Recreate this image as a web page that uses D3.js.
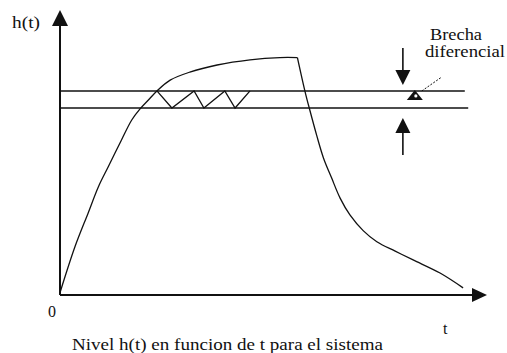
<!DOCTYPE html>
<html>
<head>
<meta charset="utf-8">
<title>Nivel h(t)</title>
<script src="https://d3js.org/d3.v7.min.js"></script>
<style>
body { margin: 0; background: #fff; }
.lbl { font-family: "Liberation Serif", Tinos, "Times New Roman", Times, "Noto Serif", "DejaVu Serif", FreeSerif, serif; }
</style>
</head>
<body>
<div id="chart"></div>
<script>
// level curve (t, h) in 0..100 units
var riseT = [0, 3.5, 6.6, 9.0, 11.3, 14.4, 16.8, 18.7, 20.7, 22.7, 25.8, 30.4, 36.8, 44.5, 51.5, 55.6];
var riseH = [0.8, 16.9, 28.8, 38.0, 45.0, 54.4, 61.4, 65.2, 68.4, 71.6, 75.4, 78.2, 80.7, 82.5, 83.3, 83.3];
var fallT = [55.6, 57.4, 58.5, 60.1, 61.7, 63.6, 65.6, 67.9, 71.0, 74.2, 78.5, 82.7, 89.0, 94.4];
var fallH = [83.3, 71.3, 64.9, 56.1, 48.1, 41.1, 34.0, 28.1, 22.6, 18.7, 15.4, 12.3, 7.7, 2.5];

// on/off band
var bandUpper = 71.6, bandLower = 65.6;
var bandEndT = [94.8, 95.6];

// zigzag between the band limits
var zigT = [22.7, 26.2, 31.4, 33.7, 38.6, 41.0, 44.5];
var zigH = [71.6, 65.6, 71.6, 65.6, 71.6, 65.6, 71.6];

var gapT = 80.3;
var gapArrowDown = [86.7, 73.7];
var gapArrowUp = [49.1, 62.1];

var labels = { y: "h(t)", x: "t", zero: "0",
  caption: "Nivel h(t) en funcion de t para el sistema",
  note: ["Brecha", "diferencial"] };

var width = 507, height = 353;
var svg = d3.select("#chart").append("svg")
  .attr("width", width).attr("height", height);

var x = d3.scaleLinear().domain([0, 100]).range([60, 487]);
var y = d3.scaleLinear().domain([0, 100]).range([295, 10]);

var ink = "#111";

// axes
svg.append("line").attr("x1", x(0)).attr("y1", y(0)).attr("x2", x(0)).attr("y2", y(95))
  .attr("stroke", ink).attr("stroke-width", 2);
svg.append("line").attr("x1", x(0)).attr("y1", y(0)).attr("x2", x(96.5)).attr("y2", y(0))
  .attr("stroke", ink).attr("stroke-width", 2);
// arrow heads
svg.append("path")
  .attr("d", "M" + x(0) + "," + y(100) + " L" + (x(0) + 8) + "," + (y(100) + 16) + " L" + (x(0) - 8) + "," + (y(100) + 16) + "Z")
  .attr("fill", ink);
svg.append("path")
  .attr("d", "M" + x(100) + "," + y(0) + " L" + (x(100) - 15) + "," + (y(0) - 7) + " L" + (x(100) - 15) + "," + (y(0) + 7) + "Z")
  .attr("fill", ink);

// band lines
[bandUpper, bandLower].forEach(function(h, i) {
  svg.append("line")
    .attr("x1", x(0)).attr("x2", x(bandEndT[i]))
    .attr("y1", y(h)).attr("y2", y(h))
    .attr("stroke", ink).attr("stroke-width", 1.6);
});

// level curve: rise and fall drawn as two smooth pieces meeting at the peak
var line = d3.line().x(function(d) { return x(d[0]); }).y(function(d) { return y(d[1]); })
  .curve(d3.curveCatmullRom.alpha(0.5));
[[riseT, riseH], [fallT, fallH]].forEach(function(s) {
  var pts = s[0].map(function(t, i) { return [t, s[1][i]]; });
  svg.append("path").datum(pts).attr("d", line)
    .attr("fill", "none").attr("stroke", ink).attr("stroke-width", 1.3);
});

// zigzag
var zig = zigT.map(function(t, i) { return [t, zigH[i]]; });
svg.append("path").datum(zig)
  .attr("d", d3.line().x(function(d) { return x(d[0]); }).y(function(d) { return y(d[1]); }))
  .attr("fill", "none").attr("stroke", ink).attr("stroke-width", 1.3);

// gap arrows
function arrow(h0, h1) {
  var dir = h1 < h0 ? 1 : -1; // 1 = pointing down
  var tip = y(h1);
  svg.append("line").attr("x1", x(gapT)).attr("x2", x(gapT))
    .attr("y1", y(h0)).attr("y2", tip - dir * 10)
    .attr("stroke", ink).attr("stroke-width", 1.6);
  svg.append("path")
    .attr("d", "M" + x(gapT) + "," + tip + " L" + (x(gapT) - 7.5) + "," + (tip - dir * 15) +
      " L" + (x(gapT) + 7.5) + "," + (tip - dir * 15) + "Z")
    .attr("fill", ink);
}
arrow(gapArrowDown[0], gapArrowDown[1]);
arrow(gapArrowUp[0], gapArrowUp[1]);

// small marker on the upper band line with leader
var mx = x(83.1), my = y(bandUpper);
svg.append("path")
  .attr("d", "M" + mx + "," + (my - 1) + " L" + (mx + 8) + "," + (my + 9) + " L" + (mx - 8) + "," + (my + 9) + "Z")
  .attr("fill", ink);
svg.append("circle").attr("cx", mx + 1).attr("cy", my + 5).attr("r", 1.6).attr("fill", "#fff");
svg.append("line").attr("x1", mx + 7).attr("y1", my).attr("x2", mx + 27).attr("y2", my - 14)
  .attr("stroke", ink).attr("stroke-width", 1).attr("stroke-dasharray", "2,1.5");

// text (fit widths to the original serif lettering)
function label(tx, ty, size, s, len) {
  var t = svg.append("text").attr("class", "lbl").attr("x", tx).attr("y", ty)
    .style("font-size", size + "px").attr("fill", ink).text(s);
  if (len) t.attr("textLength", len).attr("lengthAdjust", "spacingAndGlyphs");
}
label(12, 28, 17, labels.y, 28);
label(48, 317, 16, labels.zero);
label(443, 334, 16, labels.x);
label(72, 350, 17, labels.caption, 311);
label(430, 40, 16, labels.note[0], 52);
label(425, 57, 16, labels.note[1], 80);
</script>
</body>
</html>
